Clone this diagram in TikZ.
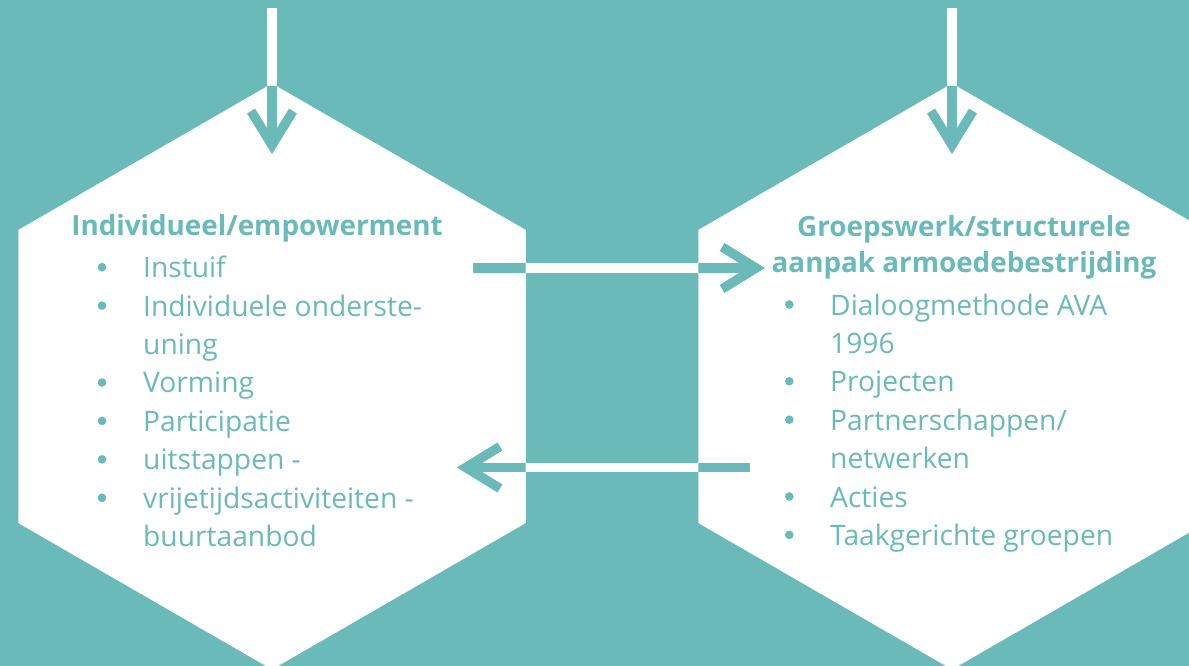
\documentclass[tikz,border=0pt]{standalone}
\usepackage{fontspec}
\setmainfont{Open Sans}
\usetikzlibrary{arrows.meta}

\definecolor{zee}{HTML}{6ABABA}

\tikzset{
  balk/.style={line width=9.4pt, draw=zee},
  pijl/.style={balk, -{Straight Barb[length=34pt, width=42pt]}},
  kop/.style={text=zee, font=\fontsize{27.8}{36}\selectfont\bfseries, anchor=base, inner sep=0pt},
  regel/.style={text=zee, font=\fontsize{28.2}{36}\selectfont, anchor=base west, inner sep=0pt},
  bol/.style={circle, fill=zee, minimum size=8.6pt, inner sep=0pt}
}

\begin{document}
\begin{tikzpicture}[x=1pt, y=-1pt]
  \fill[zee] (0,0) rectangle (1189,666);
  \useasboundingbox (0,0) rectangle (1189,666);

  % zeshoeken
  \coordinate (links) at (272,376.5);
  \coordinate (rechts) at (952,376.5);
  \foreach \c in {links, rechts}
    \fill[white, shift={(\c)}] (30:293) -- (90:293) -- (150:293) -- (210:293) -- (270:293) -- (330:293) -- cycle;

  % pijlen
  \coordinate (lbov) at (272,8);
  \coordinate (lpunt) at (272,154);
  \coordinate (rbov) at (952,8);
  \coordinate (rpunt) at (952,154);
  \coordinate (heen1) at (472.7,268);
  \coordinate (heen2) at (765,268);
  \coordinate (terug1) at (750,467.5);
  \coordinate (terug2) at (457,467.5);
  \draw[pijl] (lbov) -- (lpunt);
  \draw[pijl] (rbov) -- (rpunt);
  \draw[pijl] (heen1) -- (heen2);
  \draw[pijl] (terug1) -- (terug2);
  % wit buiten de zeshoeken
  \begin{scope}
    \clip (0,0) rectangle (1189,86);
    \draw[balk, draw=white] (lbov) -- (lpunt);
    \draw[balk, draw=white] (rbov) -- (rpunt);
  \end{scope}
  \begin{scope}
    \clip (525.7,0) rectangle (698.3,666);
    \draw[balk, draw=white] (heen1) -- (heen2);
    \draw[balk, draw=white] (terug1) -- (terug2);
  \end{scope}

  % teksten
  \node[kop] (ltitel) at (257,235.7) {Individueel/empowerment};
  \node[kop] (rtitel1) at (964,236) {Groepswerk/structurele};
  \node[kop] (rtitel2) at (964,272.7) {aanpak armoedebestrijding};
  \foreach \t/\b [count=\i from 0] in {{Instuif}/1, {Individuele onderste-}/1, {uning}/0, {Vorming}/1,
      {Participatie}/1, {uitstappen -}/1, {vrijetijdsactiviteiten -}/1, {buurtaanbod}/0} {
    \node[regel] (l\i) at (143,277.7+38.43*\i) {\t};
    \ifnum\b=1 \node[bol] (lb\i) at (102,267.2+38.43*\i) {}; \fi
  }
  \foreach \t/\b [count=\i from 0] in {{Dialoogmethode AVA}/1, {1996}/0, {Projecten}/1, {Partnerschappen/}/1,
      {netwerken}/0, {Acties}/1, {Taakgerichte groepen}/1} {
    \node[regel] (r\i) at (830,315+38.4*\i) {\t};
    \ifnum\b=1 \node[bol] (rb\i) at (789.3,304.5+38.4*\i) {}; \fi
  }
\end{tikzpicture}
\end{document}
